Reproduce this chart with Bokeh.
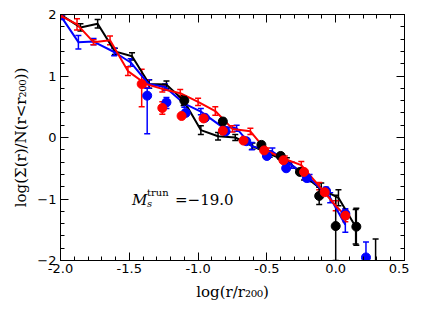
from bokeh.plotting import figure
from bokeh.models import (ColumnDataSource, Whisker, TeeHead, LinearAxis, FixedTicker, Label, Range1d,
                          CustomJSTickFormatter)
from bokeh.embed import file_html
from bokeh.resources import INLINE

# ---- data ----
# black line with error bars
black_x = [-1.98, -1.855, -1.73, -1.605, -1.48, -1.355, -1.23, -1.105, -0.98, -0.855, -0.73, -0.605, -0.48, -0.355, -0.23, -0.105, 0.02, 0.145]
black_y = [1.97, 1.79, 1.85, 1.40, 1.32, 0.87, 0.86, 0.60, 0.12, 0.02, 0.00, -0.14, -0.27, -0.38, -0.62, -0.84, -0.98, -1.45]
black_e = [0.03, 0.06, 0.07, 0.05, 0.06, 0.07, 0.06, 0.08, 0.07, 0.06, 0.05, 0.05, 0.05, 0.05, 0.07, 0.10, 0.13, 0.28]

# blue line with error bars
blue_x = [-1.99, -1.87, -1.76, -1.61, -1.49, -1.36, -1.24, -1.10, -0.98, -0.83, -0.72, -0.61, -0.46, -0.32, -0.19, -0.04, 0.07]
blue_y = [1.95, 1.55, 1.56, 1.39, 1.22, 0.87, 0.82, 0.55, 0.42, 0.18, 0.15, -0.14, -0.23, -0.45, -0.66, -0.98, -1.42]
blue_e = [0.03, 0.11, 0.05, 0.06, 0.06, 0.07, 0.05, 0.06, 0.05, 0.06, 0.05, 0.06, 0.06, 0.05, 0.06, 0.08, 0.12]

# red line with error bars
red_x = [-1.99, -1.88, -1.76, -1.64, -1.51, -1.38, -1.26, -1.13, -1.00, -0.875, -0.75, -0.62, -0.50, -0.37, -0.25, -0.12, 0.0, 0.07]
red_y = [1.97, 1.84, 1.55, 1.58, 1.08, 0.87, 0.79, 0.72, 0.58, 0.43, 0.14, 0.10, -0.22, -0.35, -0.45, -0.79, -1.11, -1.27]
red_e = [0.03, 0.09, 0.04, 0.07, 0.07, 0.06, 0.05, 0.06, 0.06, 0.07, 0.05, 0.05, 0.05, 0.05, 0.06, 0.06, 0.08, 0.10]

# circles with error bars
bpt_x = [-1.10, -0.82, -0.54, -0.40, -0.26, -0.12, 0.0, 0.15, 0.29]
bpt_y = [0.60, 0.26, -0.12, -0.30, -0.56, -0.95, -1.44, -1.45, -2.15]
bpt_lo = [0.06, 0.05, 0.05, 0.05, 0.05, 0.14, 0.56, 0.30, 0.50]
bpt_hi = [0.06, 0.05, 0.05, 0.05, 0.05, 0.14, 0.50, 0.30, 0.50]

upt_x = [-1.37, -1.23, -1.09, -0.95, -0.80, -0.65, -0.50, -0.36, -0.21, -0.07, 0.07, 0.22]
upt_y = [0.68, 0.57, 0.40, 0.32, 0.10, -0.06, -0.30, -0.50, -0.66, -0.87, -1.24, -1.95]
upt_lo = [0.62, 0.10, 0.05, 0.05, 0.05, 0.05, 0.05, 0.05, 0.05, 0.06, 0.08, 0.25]
upt_hi = [0.12, 0.08, 0.05, 0.05, 0.05, 0.05, 0.05, 0.05, 0.05, 0.06, 0.08, 0.25]

rpt_x = [-1.41, -1.26, -1.12, -0.96, -0.82, -0.67, -0.52, -0.38, -0.23, -0.08, 0.07]
rpt_y = [0.87, 0.48, 0.35, 0.31, 0.11, -0.05, -0.21, -0.37, -0.56, -0.89, -1.27]
rpt_lo = [0.37, 0.10, 0.04, 0.04, 0.04, 0.04, 0.04, 0.04, 0.04, 0.05, 0.06]
rpt_hi = [0.24, 0.10, 0.04, 0.04, 0.04, 0.04, 0.04, 0.04, 0.04, 0.05, 0.06]

x_ticks = [-2.0, -1.5, -1.0, -0.5, 0.0, 0.5]
x_minor = [round(-2.0 + 0.1 * i, 2) for i in range(26)]
y_ticks = [-2, -1, 0, 1, 2]
y_minor = [round(-2.0 + 0.2 * i, 2) for i in range(21)]
y_labels = {2: "2", 1: "1", 0: "0", -1: "\u22121", -2: "\u22122"}

p = figure(width=409, height=303, output_backend="svg", toolbar_location=None,
           x_range=Range1d(-2.0, 0.5), y_range=Range1d(-2.0, 2.0),
           min_border_left=60, min_border_right=5, min_border_top=14, min_border_bottom=41)
p.grid.visible = False
p.outline_line_color = "black"
p.outline_line_width = 1
p.background_fill_color = "white"
p.border_fill_color = "white"

SERIF = "DejaVu Serif"
SANS = "DejaVu Sans"


def style_axis(ax, ticks, minor, show):
    ax.ticker = FixedTicker(ticks=ticks, minor_ticks=minor)
    ax.major_tick_in = 8
    ax.major_tick_out = 0
    ax.minor_tick_in = 4
    ax.minor_tick_out = 0
    ax.axis_line_color = "black"
    ax.major_tick_line_color = "black"
    ax.minor_tick_line_color = "black"
    ax.major_label_text_font = SANS
    ax.major_label_text_font_size = "13px"
    ax.major_label_text_color = "black"
    if not show:
        ax.formatter = CustomJSTickFormatter(code="return '';")
        ax.major_label_standoff = 0


style_axis(p.xaxis[0], x_ticks, x_minor, True)
style_axis(p.yaxis[0], y_ticks, y_minor, True)
p.xaxis[0].formatter = CustomJSTickFormatter(code="return tick.toFixed(1);")
p.yaxis[0].major_label_overrides = y_labels
p.xaxis[0].major_label_standoff = 3
p.yaxis[0].major_label_standoff = 4

p.xaxis[0].axis_label = "log(r/r\u2082\u2080\u2080)"
p.yaxis[0].axis_label = "log(\u03a3(r)/N(r<r\u2082\u2080\u2080))"
for ax in (p.xaxis[0], p.yaxis[0]):
    ax.axis_label_text_font = SERIF
    ax.axis_label_text_font_size = "15px"
    ax.axis_label_text_font_style = "normal"
    ax.axis_label_text_color = "black"
p.xaxis[0].axis_label_standoff = 7
p.yaxis[0].axis_label_standoff = 4

top = LinearAxis()
style_axis(top, x_ticks, x_minor, False)
p.add_layout(top, "above")
right = LinearAxis()
style_axis(right, y_ticks, y_minor, False)
p.add_layout(right, "right")


def add_errors(xs, ys, lo, hi, color, lw=1.5):
    src = ColumnDataSource(dict(x=xs, lower=[y - l for y, l in zip(ys, lo)],
                                upper=[y + h for y, h in zip(ys, hi)]))
    w = Whisker(base="x", lower="lower", upper="upper", source=src, dimension="height",
                line_color=color, line_width=lw,
                upper_head=TeeHead(size=6, line_color=color, line_width=lw),
                lower_head=TeeHead(size=6, line_color=color, line_width=lw))
    p.add_layout(w)


# lines with error bars
for xs, ys, es, col in [(black_x, black_y, black_e, "black"),
                        (blue_x, blue_y, blue_e, "blue"),
                        (red_x, red_y, red_e, "red")]:
    add_errors(xs, ys, es, es, col)
    p.line(xs, ys, line_color=col, line_width=2)

# circles with error bars
for xs, ys, lo, hi, col in [(bpt_x, bpt_y, bpt_lo, bpt_hi, "black"),
                            (upt_x, upt_y, upt_lo, upt_hi, "blue"),
                            (rpt_x, rpt_y, rpt_lo, rpt_hi, "red")]:
    add_errors(xs, ys, lo, hi, col)
    p.scatter(xs, ys, size=9, fill_color=col, line_color=col)

# annotation  M_s^trun = -19.0
ax0, ay0 = -1.48, -1.02
p.add_layout(Label(x=ax0, y=ay0, text="M", text_font=SERIF, text_font_style="italic",
                   text_font_size="15px", text_baseline="alphabetic", text_color="black"))
p.add_layout(Label(x=ax0, y=ay0, x_offset=15, y_offset=8, text="trun", text_font=SERIF,
                   text_font_size="10px", text_baseline="alphabetic", text_color="black"))
p.add_layout(Label(x=ax0, y=ay0, x_offset=15, y_offset=-3, text="s", text_font=SERIF,
                   text_font_style="italic", text_font_size="10px", text_baseline="alphabetic",
                   text_color="black"))
p.add_layout(Label(x=ax0, y=ay0, x_offset=43, text="=\u221219.0", text_font=SERIF,
                   text_font_size="15px", text_baseline="alphabetic", text_color="black"))

open("out.html", "w").write(file_html(p, INLINE))
